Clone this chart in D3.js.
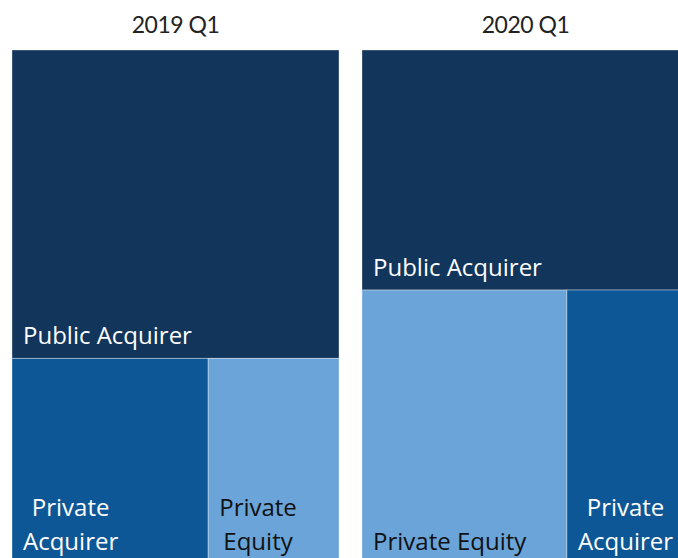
<!DOCTYPE html>
<html>
<head>
<meta charset="utf-8">
<script src="https://cdn.jsdelivr.net/npm/d3@7"></script>
<style>
  body { margin: 0; background: #fff; }
  svg { display: block; }
</style>
</head>
<body>
<script>
// share of deals by acquirer type
const periods = ["2019 Q1", "2020 Q1"];
const publicShare = [60, 46.7];
const privateAcqShare = [24, 19.9];
const privateEqShare = [16, 33.4];
// order of the two private cells in the lower strip
const lowerOrder = [
  ["Private Acquirer", "Private Equity"],
  ["Private Equity", "Private Acquirer"]
];

const colors = {
  "Public Acquirer": "#12355b",
  "Private Acquirer": "#0e5797",
  "Private Equity": "#6aa4d8"
};
const textColors = {
  "Public Acquirer": "#fff",
  "Private Acquirer": "#fff",
  "Private Equity": "#111"
};

const width = 678, height = 558;
const panelW = 327, panelH = 514, topY = 50;
const panelX = [12, 362];

const svg = d3.select("body").append("svg")
  .attr("width", width)
  .attr("height", height);

// slice at root (stacked), dice inside the lower group (side by side)
const tile = (node, x0, y0, x1, y1) => {
  if (node.depth % 2 === 0) d3.treemapSlice(node, x0, y0, x1, y1);
  else d3.treemapDice(node, x0, y0, x1, y1);
};

periods.forEach((p, i) => {
  const vals = {
    "Private Acquirer": privateAcqShare[i],
    "Private Equity": privateEqShare[i]
  };
  const data = {
    name: p,
    children: [
      {name: "Public Acquirer", value: publicShare[i]},
      {name: "Private", children: lowerOrder[i].map(n => ({name: n, value: vals[n]}))}
    ]
  };

  const root = d3.hierarchy(data).sum(d => d.value || 0);
  d3.treemap().tile(tile).size([panelW, panelH]).round(false)(root);

  const g = svg.append("g")
    .attr("transform", `translate(${panelX[i]},${topY})`);

  svg.append("text")
    .attr("x", panelX[i] + panelW / 2)
    .attr("y", 33)
    .attr("text-anchor", "middle")
    .style("font-family", "Lato, sans-serif")
    .style("font-size", "23px")
    .style("letter-spacing", "-0.5px")
    .attr("fill", "#222")
    .text(p);

  const cells = g.selectAll("g.cell")
    .data(root.leaves())
    .join("g")
    .attr("class", "cell");

  cells.append("rect")
    .attr("x", d => d.x0)
    .attr("y", d => d.y0)
    .attr("width", d => d.x1 - d.x0)
    .attr("height", d => d.y1 - d.y0)
    .attr("fill", d => colors[d.data.name])
    .attr("stroke", "rgba(255,255,255,0.35)")
    .attr("stroke-width", 1);

  cells.each(function(d) {
    const cell = d3.select(this);
    const pad = 11;
    const fs = 24;
    const t = cell.append("text")
      .style("font-family", "'Open Sans', sans-serif")
      .style("font-size", fs + "px")
      .attr("fill", textColors[d.data.name])
      .attr("text-anchor", "middle");

    // one line if it fits, otherwise one word per line
    t.text(d.data.name);
    const full = t.node().getComputedTextLength();
    const lines = full > (d.x1 - d.x0) - 2 * pad ? d.data.name.split(" ") : [d.data.name];
    t.text(null);
    const spans = lines.map(l => t.append("tspan").text(l));
    const maxW = d3.max(spans, s => s.node().getComputedTextLength());
    const cx = d.x0 + pad + maxW / 2;
    const lineH = 34;
    spans.forEach((s, k) => {
      s.attr("x", cx)
       .attr("y", d.y1 - 14 - (lines.length - 1 - k) * lineH);
    });
  });
});
</script>
</body>
</html>
